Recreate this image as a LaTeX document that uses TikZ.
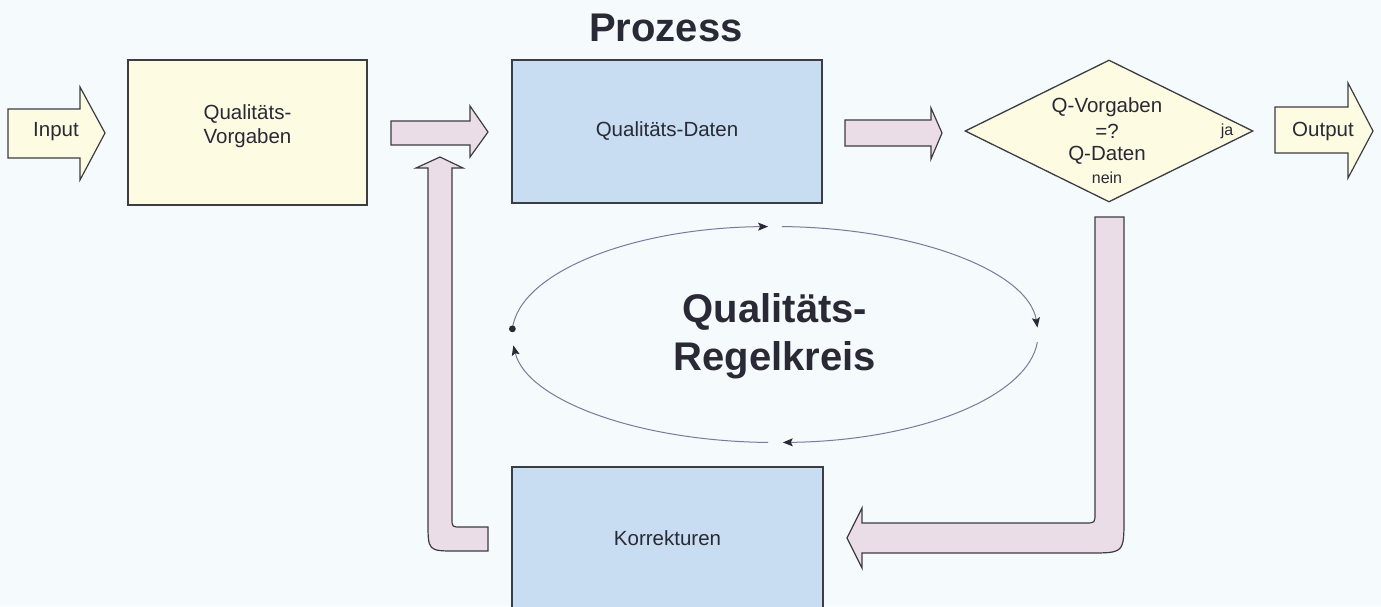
\documentclass[tikz,border=0pt]{standalone}
\usepackage{fontspec}
\setmainfont{Liberation Sans}
\usetikzlibrary{arrows.meta,shapes.geometric,calc}
\definecolor{bg}{HTML}{F5FAFC}
\definecolor{cream}{HTML}{FDFBE2}
\definecolor{skyfill}{HTML}{C8DDF1}
\definecolor{mauve}{HTML}{EBDDE7}
\definecolor{edge}{HTML}{3C3C44}
\definecolor{ink}{HTML}{2A2A36}
\definecolor{loopline}{HTML}{7A7A9C}
\tikzset{
  boxnode/.style={draw=edge, line width=1.3pt, inner sep=0pt},
  blockarrow/.style={draw=edge, line width=1.2pt, line join=miter},
  txt/.style={text=ink, font=\fontsize{20.5}{24}\selectfont, inner sep=0pt, align=center},
  smalltxt/.style={text=ink, font=\fontsize{16}{19}\selectfont, inner sep=0pt},
  bigtxt/.style={text=ink, font=\fontsize{40}{48}\bfseries\selectfont, inner sep=0pt, align=center},
  looparc/.style={draw=loopline, line width=1pt, -{Stealth[length=10pt,width=8pt,inset=2pt,color=ink]}},
}
\begin{document}
\begin{tikzpicture}[x=1pt,y=-1pt]
\useasboundingbox (0,0) rectangle (1381,606);
\fill[bg] (0,0) rectangle (1381,606);

% boxes
\node[boxnode, fill=cream, minimum width=239pt, minimum height=145pt] (vorg) at (247.5,132.5) {};
\node[boxnode, fill=skyfill, minimum width=310pt, minimum height=143pt] (daten) at (667,131.5) {};
\node[boxnode, fill=skyfill, minimum width=311pt, minimum height=150pt] (korr) at (667.5,542) {};
\node[boxnode, diamond, fill=cream, minimum width=288pt, minimum height=142pt] (dec) at (1109,131) {};

% straight block arrows
\path[blockarrow, fill=cream] (8,109) -- (80,109) -- (80,87) -- (105,133) -- (80,180) -- (80,158) -- (8,158) -- cycle;
\path[blockarrow, fill=cream] (1275,107) -- (1348,107) -- (1348,83) -- (1373,131) -- (1348,178) -- (1348,153) -- (1275,153) -- cycle;
\path[blockarrow, fill=mauve] (391,121) -- (470,121) -- (470,106) -- (488,132) -- (470,157) -- (470,145) -- (391,145) -- cycle;
\path[blockarrow, fill=mauve] (845,120) -- (931,120) -- (931,108) -- (942,133) -- (931,159) -- (931,146) -- (845,146) -- cycle;

% L-shaped block arrows
\path[blockarrow, fill=mauve] (488,527) -- (461,527) .. controls (452,527) .. (452,518) -- (452,168) -- (463,168) -- (440,157) -- (416,168) -- (428,168) -- (428,522) .. controls (428,551) .. (456,551) -- (488,551) -- cycle;
\path[blockarrow, fill=mauve] (1095,217) -- (1124,217) -- (1124,518) .. controls (1124,553) .. (1089,553) -- (862,553) -- (862,568) -- (847,538) -- (862,508) -- (862,523) -- (1085,523) .. controls (1095,523) .. (1095,513) -- cycle;

% texts
\node[txt] (tin) at (56,132) {Input};
\node[txt] (tout) at (1323,131) {Output};
\node[txt] (tvorg) at (vorg) [yshift=6pt] {Qualitäts-\\Vorgaben};
\node[txt] (tdaten) at (daten) {Qualitäts-Daten};
\node[txt] (tkorr) at (667.5,538) {Korrekturen};
\node[bigtxt] (tproz) at (666,28) {Prozess};
\node[txt] (q1) at (1107,107) {Q-Vorgaben};
\node[txt] (q2) at (1107,131) {=?};
\node[txt] (q3) at (1107,155) {Q-Daten};
\node[smalltxt] (nein) at (1107,178) {nein};
\node[smalltxt] (ja) at (1227,131) {ja};

% control loop
\coordinate (c) at (775,334.5);
\node[bigtxt] (regel) at (775,336) {Qualitäts-\\Regelkreis};
\coordinate (lstart) at ($(c)+(-177:263 and 108)$);
\draw[looparc] (lstart) arc[start angle=-177, end angle=-91.5, x radius=263, y radius=108];
\draw[looparc] (c) ++(-88.5:263 and 108) arc[start angle=-88.5, end angle=-3.7, x radius=263, y radius=108];
\draw[looparc] (c) ++(4:263 and 108) arc[start angle=4, end angle=88.3, x radius=263, y radius=108];
\draw[looparc] (c) ++(91.5:263 and 108) arc[start angle=91.5, end angle=174.2, x radius=263, y radius=108];
\fill[ink] (lstart) circle (3.4pt);
\end{tikzpicture}
\end{document}
